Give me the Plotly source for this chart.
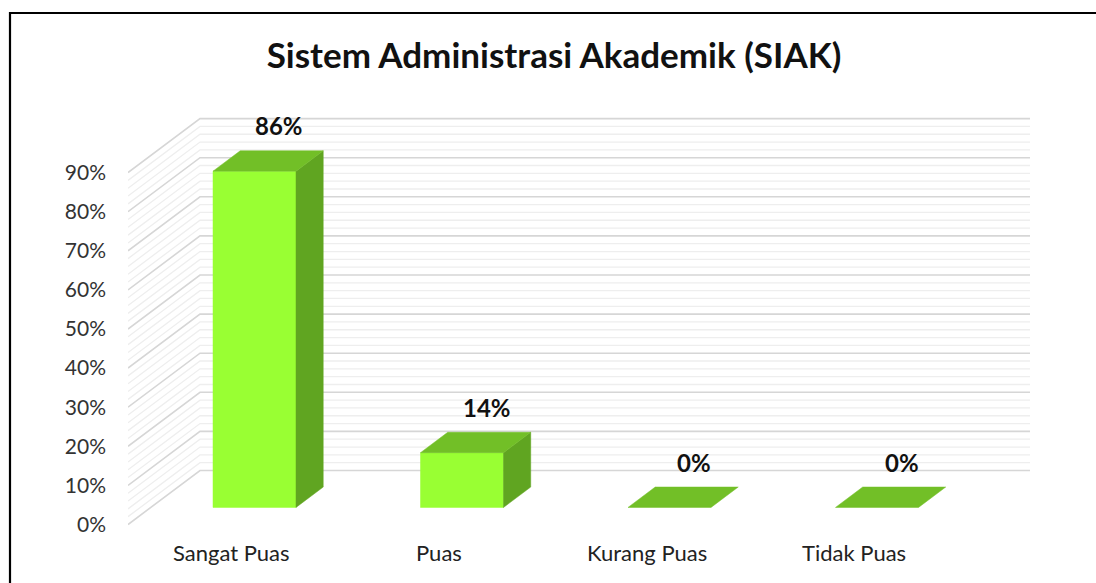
import plotly.graph_objects as go

# ---- data ----
categories = ["Sangat Puas", "Puas", "Kurang Puas", "Tidak Puas"]
values = [86, 14, 0, 0]
label_text = ["86%", "14%", "0%", "0%"]
y_ticks = [0, 10, 20, 30, 40, 50, 60, 70, 80, 90]
title_text = "Sistem Administrasi Akademik (SIAK)"

# ---- styling / projection ----
FRONT = "#99FF33"
TOP = "#72BF27"
SIDE = "#60A521"
MAJOR_GRID = "#D6D6D6"
MINOR_GRID = "#EEEEEE"
FONT = "Lato"

W, H = 1096, 583
ML = 128                      # left margin (front edge of side wall)
CAT_PX = 207.5                # pixels per category
PCT_PX = 3.91                 # pixels per percent
ZERO_PX = 524.5               # pixel row of 0% at front

DX = 72 / CAT_PX              # depth offset in x (category units)
DY = 54 / PCT_PX              # depth offset in y (percent units)
D0, D1 = 0.316, 0.694         # bar front/back depth
BW = 0.40                     # bar width

x_min = -0.5
x_max = -0.5 + (W - ML) / CAT_PX
y_min = (ZERO_PX - H) / PCT_PX
y_max = ZERO_PX / PCT_PX
y_top = max(y_ticks)
n = len(categories)

fig = go.Figure()

# ---- walls' gridlines ----
def grid_xy(levels):
    xs, ys = [], []
    for v in levels:
        xs += [x_min, x_min + DX, n - 0.5 + DX, None]
        ys += [v, v + DY, v + DY, None]
    return xs, ys

minor_levels = [v for v in range(0, y_top + 1, 2) if v % 10 != 0]
mx, my = grid_xy(minor_levels)
fig.add_trace(go.Scatter(x=mx, y=my, mode="lines", line=dict(color=MINOR_GRID, width=1.3),
                         hoverinfo="skip", showlegend=False))
Mx, My = grid_xy(y_ticks)
fig.add_trace(go.Scatter(x=Mx, y=My, mode="lines", line=dict(color=MAJOR_GRID, width=1.6),
                         hoverinfo="skip", showlegend=False))

# ---- 3D bars ----
ox = (D1 - D0) * DX
oy = (D1 - D0) * DY
for i, v in enumerate(values):
    xc = i + D0 * DX
    y0 = D0 * DY
    xl, xr = xc - BW / 2, xc + BW / 2
    faces = []
    if v > 0:
        faces.append(([xl, xr, xr, xl, xl], [y0, y0, y0 + v, y0 + v, y0], FRONT))
        faces.append(([xr, xr + ox, xr + ox, xr, xr],
                      [y0, y0 + oy, y0 + v + oy, y0 + v, y0], SIDE))
    faces.append(([xl, xr, xr + ox, xl + ox, xl],
                  [y0 + v, y0 + v, y0 + v + oy, y0 + v + oy, y0 + v], TOP))
    for fx, fy, col in faces:
        fig.add_trace(go.Scatter(x=fx, y=fy, mode="lines", fill="toself", fillcolor=col,
                                 line=dict(color=col, width=0.5), hoverinfo="skip",
                                 showlegend=False))
    # data label
    fig.add_annotation(x=i + 0.23, y=y0 + v + oy, text=label_text[i], showarrow=False,
                       yanchor="middle", yshift=25,
                       font=dict(family=FONT, size=24, color="#111111", weight="bold"))
    # category label
    fig.add_annotation(x=i, y=0, text=categories[i], showarrow=False,
                       yanchor="middle", yshift=-28,
                       font=dict(family=FONT, size=22, color="#222222"))

# ---- border ----
fig.add_shape(type="rect", xref="paper", yref="paper",
              x0=(10 - ML) / (W - ML), x1=1.02, y0=-0.02, y1=(H - 13) / H,
              line=dict(color="black", width=2.2), fillcolor="rgba(0,0,0,0)", layer="above")

fig.update_layout(
    width=W, height=H,
    margin=dict(l=ML, r=0, t=0, b=0),
    paper_bgcolor="white", plot_bgcolor="white",
    title=dict(text=title_text, x=554 / W, y=1 - 56 / H, xanchor="center", yanchor="middle",
               font=dict(family=FONT, size=35, color="#111111", weight="bold")),
    xaxis=dict(range=[x_min, x_max], visible=False, fixedrange=True),
    yaxis=dict(range=[y_min, y_max], tickvals=y_ticks, ticktext=[f"{t}%" for t in y_ticks],
               showgrid=False, zeroline=False, showline=False, ticks="",
               ticklabelstandoff=21, tickfont=dict(family=FONT, size=21, color="#333333"),
               fixedrange=True),
    showlegend=False,
)

fig.write_html("out.html")
